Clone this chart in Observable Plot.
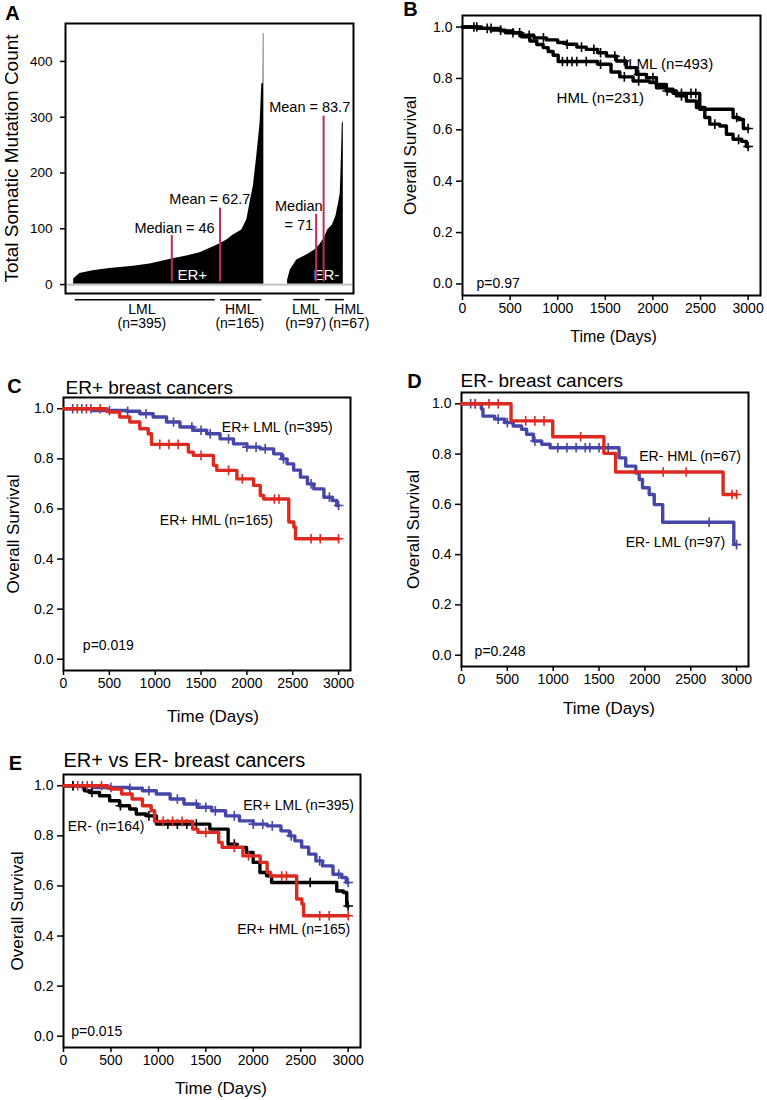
<!DOCTYPE html>
<html><head><meta charset="utf-8">
<script src="https://cdn.jsdelivr.net/npm/d3@7"></script>
<script src="https://cdn.jsdelivr.net/npm/@observablehq/plot@0.6"></script>
<style>
body{margin:0;background:#fff;}
#fig{position:relative;width:767px;height:1100px;font-family:"Liberation Sans",Arial,Helvetica,sans-serif;}
.panel{position:absolute;}
</style></head><body><div id="fig"></div>
<script>
// ---------- Panel A data: sorted total somatic mutation counts ----------
const erPosRank  = [0, 18, 57, 106, 176, 225, 289, 333, 372, 412, 431, 451, 470, 495, 510, 519, 529, 539, 549, 554, 558, 558.6, 560];
const erPosCount = [10, 20, 25, 29, 33, 37, 46, 51, 57, 68, 73, 80, 89, 98, 116, 146, 176, 229, 289, 360, 360, 450, 450];
const erNegRank  = [0, 8, 27, 56, 80, 94, 108, 118, 132, 142, 150, 155, 157, 159, 161, 164];
const erNegCount = [8, 26, 44, 53, 62, 71, 83, 98, 107, 122, 146, 163, 200, 240, 289, 292];
const statLabels = ["Median = 46", "Mean = 62.7", "Median\n= 71", "Mean = 83.7"];
const statValues = [46, 62.7, 71, 83.7];
const groupNames = ["LML", "HML", "LML", "HML"];
const groupN     = ["(n=395)", "(n=165)", "(n=97)", "(n=67)"];
const yTicksA = [0, 100, 200, 300, 400];

// ---------- Survival data: [time (days), survival] steps ----------
const survB_LML = [[0,1],[150,0.995],[300,0.988],[450,0.978],[600,0.968],[750,0.958],[880,0.95],[1000,0.94],[1090,0.933],[1200,0.922],[1300,0.913],[1420,0.9],[1512,0.887],[1617,0.868],[1720,0.842],[1827,0.816],[1932,0.803],[2037,0.777],[2142,0.751],[2247,0.732],[2352,0.712],[2457,0.687],[2545,0.648],[2597,0.622],[2702,0.615],[2772,0.583],[2842,0.563],[2930,0.555],[2982,0.535],[3000,0.535]];
const survB_HML = [[0,1],[200,0.995],[400,0.985],[532,0.978],[620,0.962],[707,0.946],[780,0.932],[847,0.92],[900,0.905],[952,0.89],[1005,0.866],[1420,0.855],[1560,0.825],[1652,0.806],[1792,0.79],[1967,0.784],[2037,0.764],[2142,0.758],[2212,0.742],[2492,0.68],[2842,0.648],[2900,0.64],[2950,0.605],[3000,0.605]];
const survERpos_LML = [[0,1],[321,0.993],[686,0.99],[832,0.98],[978,0.967],[1124,0.947],[1270,0.927],[1416,0.914],[1562,0.9],[1708,0.88],[1854,0.86],[2000,0.847],[2146,0.84],[2292,0.82],[2380,0.8],[2438,0.78],[2510,0.755],[2584,0.727],[2660,0.7],[2730,0.68],[2840,0.647],[2931,0.634],[2980,0.614],[3000,0.614]];
const survERpos_HML = [[0,1],[470,0.99],[504,0.987],[613,0.967],[723,0.947],[832,0.92],[924,0.9],[960,0.858],[1361,0.827],[1416,0.814],[1635,0.774],[1672,0.754],[1891,0.72],[2073,0.694],[2146,0.654],[2183,0.64],[2457,0.548],[2512,0.528],[2530,0.481],[3000,0.481]];
const survERneg_HML = [[0,1],[540,0.932],[995,0.869],[1553,0.803],[1680,0.729],[2853,0.639],[3000,0.639]];
const survERneg_LML = [[0,1],[216,0.98],[234,0.951],[362,0.939],[472,0.925],[564,0.912],[655,0.899],[710,0.879],[784,0.852],[875,0.839],[967,0.825],[1718,0.785],[1791,0.752],[1901,0.725],[1938,0.699],[1974,0.666],[2047,0.639],[2102,0.599],[2194,0.529],[2970,0.44],[3000,0.44]];
const survERneg_all = [[0,1],[222,0.98],[275,0.973],[380,0.96],[486,0.94],[591,0.92],[697,0.907],[767,0.887],[873,0.88],[979,0.847],[1542,0.827],[1735,0.767],[1823,0.754],[1929,0.734],[1999,0.694],[2070,0.654],[2140,0.641],[2193,0.614],[2880,0.58],[2950,0.574],[2985,0.52],[3000,0.52]];

// censoring times (days)
const censB_LML = [120,260,400,530,700,850,1100,1250,1380,1450,1600,1700,1850,2000,2150,2300,2650,2900,3000];
const censB_HML = [150,300,600,1050,1100,1150,1200,1300,1450,1700,1850,2300,2400,2450,2880,3000];
const censERpos_LML = [100,200,300,500,700,900,1200,1400,1500,1600,1800,2000,2100,2200,2400,2700,2900,3000];
const censERpos_HML = [150,250,400,1050,1150,1250,1500,1800,1950,2300,2350,2700,2800,3000];
const censERneg_HML = [150,300,400,700,800,900,1300,2200,2450,2950,3000];
const censERneg_LML = [100,150,400,500,800,1050,1150,1250,1350,1400,1500,1600,2700,3000];
const censERneg_all = [100,300,600,900,1100,1200,1300,1400,1800,2600,3000];

const xTicksS = [0, 500, 1000, 1500, 2000, 2500, 3000];
const yTicksS = [0, 0.2, 0.4, 0.6, 0.8, 1.0];

const FONT = '"Liberation Sans", Arial, Helvetica, sans-serif';
const RED = "#dd2a20", BLUE = "#4646a8", BLACK = "#000", STAT = "#c42a57";
const fig = document.getElementById("fig");

function place(svg, left, top) {
  const d = document.createElement("div");
  d.className = "panel"; d.style.left = left + "px"; d.style.top = top + "px";
  d.appendChild(svg); fig.appendChild(d);
}
function lookup(curve, t) { let s = curve[0][1]; for (const d of curve) if (d[0] <= t) s = d[1]; return s; }

// ---------------- Panel A ----------------
(function () {
  const ER_NEG_OFFSET = 630;
  const erPos = erPosRank.map((r, i) => ({x: r, y: erPosCount[i]}));
  const erNeg = erNegRank.map((r, i) => ({x: r + ER_NEG_OFFSET, y: erNegCount[i]}));
  const statPlace = [
    {x: 289, top: 88, lx: 297, ly: 103},
    {x: 431, top: 137, lx: 401, ly: 156},
    {x: 714, top: 126, lx: 663, ly: 125},
    {x: 736, top: 302, lx: 695, ly: 320}
  ];
  const stats = statLabels.map((t, i) => ({label: t, value: statValues[i], ...statPlace[i]}));
  const groupPlace = [[5, 417, 201], [433, 554, 489], [648, 726, 683], [742, 797, 811]];
  const groups = groupNames.map((g, i) => ({name: g, n: groupN[i], x1: groupPlace[i][0], x2: groupPlace[i][1], cx: groupPlace[i][2]}));
  const svg = Plot.plot({
    width: 380, height: 340, marginLeft: 65, marginRight: 27, marginTop: 23, marginBottom: 47,
    style: {fontFamily: FONT, background: "none", overflow: "visible"},
    x: {domain: [-24, 824], axis: null},
    y: {domain: [-16, 468], axis: null},
    marks: [
      Plot.areaY(erPos, {x: "x", y: "y", fill: "black"}),
      Plot.areaY(erNeg, {x: "x", y: "y", fill: "black"}),
      Plot.ruleY([0], {stroke: "#c8c8c8", strokeWidth: 2.2}),
      Plot.text(["ER+", "ER-"], {x: [349, 744], y: [16, 16], fill: "white", fontSize: 15}),
      Plot.ruleX(stats, {x: "x", y1: 5, y2: "top", stroke: STAT, strokeWidth: 2}),
      Plot.text(stats, {x: "lx", y: "ly", text: "label", fontSize: 14.5, lineHeight: 1.3, fill: "black"}),
      Plot.frame({stroke: "black", strokeWidth: 2}),
      Plot.axisY({ticks: yTicksA, tickSize: 5, tickPadding: 8, fontSize: 13.5, tickFormat: d => String(d), label: null, strokeWidth: 1.5}),
      Plot.ruleY(groups, {y: -27, x1: "x1", x2: "x2", stroke: "black", strokeWidth: 1.5}),
      Plot.text(groups, {x: "cx", y: -44, text: "name", fontSize: 14}),
      Plot.text(groups, {x: "cx", y: -70, text: "n", fontSize: 14}),
      Plot.text(["Total Somatic Mutation Count"], {frameAnchor: "left", textAnchor: "middle", lineAnchor: "middle", rotate: -90, dx: -54, fontSize: 19}),
      Plot.text(["A"], {frameAnchor: "top-left", textAnchor: "middle", lineAnchor: "middle", dx: -53, dy: -10, fontSize: 20, fontWeight: "bold"})
    ]
  });
  place(svg, 0, 0);
})();

// ---------------- Survival panels ----------------
function survPanel(cfg) {
  const marks = [
    Plot.frame({stroke: "black", strokeWidth: 2}),
    Plot.axisX({ticks: xTicksS, tickSize: 5, tickPadding: 3, fontSize: 14, tickFormat: d => String(d), label: null, strokeWidth: 1.5}),
    Plot.axisY({ticks: yTicksS, tickSize: 6, tickPadding: 4, fontSize: 14, tickFormat: d3.format(".1f"), label: null, strokeWidth: 1.5})
  ];
  for (const s of cfg.series) {
    const data = s.data.map(d => ({t: d[0], s: d[1]}));
    marks.push(Plot.line(data, {x: "t", y: "s", curve: "step-after", stroke: s.color, strokeWidth: 3.4}));
    const cens = s.cens.map(t => ({t, s: lookup(s.data, t)}));
    marks.push(Plot.dot(cens, {x: "t", y: "s", symbol: "plus", r: 3.2, stroke: s.color, strokeWidth: 1.6}));
  }
  marks.push(Plot.text(cfg.labels, {x: "t", y: "s", text: "text", textAnchor: "start", fontSize: cfg.labelSize || 14}));
  marks.push(Plot.text([cfg.p], {x: "t", y: "s", text: "text", textAnchor: "start", fontSize: 14}));
  marks.push(Plot.text(["Overall Survival"], {frameAnchor: "left", textAnchor: "middle", lineAnchor: "middle", rotate: -90, dx: cfg.ylabDx, fontSize: 17}));
  marks.push(Plot.text(["Time (Days)"], {frameAnchor: "bottom", textAnchor: "middle", lineAnchor: "middle", dy: cfg.xlabDy, dx: cfg.xlabDx || 0, fontSize: cfg.xlabSize || 17}));
  if (cfg.title) marks.push(Plot.text([cfg.title], {frameAnchor: "top-left", dx: cfg.titleDx, dy: -cfg.titleGap, textAnchor: "start", lineAnchor: "middle", fontSize: cfg.titleSize}));
  marks.push(Plot.text([cfg.letter], {frameAnchor: "top-left", textAnchor: "middle", lineAnchor: "middle", dx: cfg.letterDx, dy: cfg.letterDy, fontSize: 20, fontWeight: "bold"}));
  const svg = Plot.plot({
    width: cfg.width, height: cfg.height,
    marginLeft: cfg.m[0], marginTop: cfg.m[1], marginRight: cfg.m[2], marginBottom: cfg.m[3],
    style: {fontFamily: FONT, background: "none", overflow: "visible"},
    x: {domain: [0, 3130], axis: null},
    y: {domain: [-0.045, 1.045], axis: null},
    marks
  });
  place(svg, cfg.left, cfg.top);
}

// B
survPanel({
  left: 380, top: 0, width: 387, height: 350, m: [82, 15, 7, 55],
  series: [
    {data: survB_HML, cens: censB_HML, color: BLACK},
    {data: survB_LML, cens: censB_LML, color: BLACK}
  ],
  labels: [{t: 1741, s: 0.855, text: "LML (n=493)"}, {t: 988, s: 0.725, text: "HML (n=231)"}],
  labelSize: 15,
  p: {t: 147, s: 0.0, text: "p=0.97"},
  ylabDx: -52, xlabDy: 41, xlabDx: 2, xlabSize: 16,
  letter: "B", letterDx: -52, letterDy: -6
});

// C
survPanel({
  left: 0, top: 360, width: 380, height: 370, m: [63, 37, 30, 60],
  series: [
    {data: survERpos_LML, cens: censERpos_LML, color: BLUE},
    {data: survERpos_HML, cens: censERpos_HML, color: RED}
  ],
  labels: [{t: 1727, s: 0.927, text: "ER+ LML (n=395)"}, {t: 1051, s: 0.554, text: "ER+ HML (n=165)"}],
  p: {t: 211, s: 0.056, text: "p=0.019"},
  ylabDx: -50, xlabDy: 46, xlabDx: 6,
  title: "ER+ breast cancers", titleDx: 2, titleGap: 10, titleSize: 19,
  letter: "C", letterDx: -49, letterDy: -11
});

// D
survPanel({
  left: 380, top: 355, width: 387, height: 370, m: [81, 37, 19, 59],
  series: [
    {data: survERneg_LML, cens: censERneg_LML, color: BLUE},
    {data: survERneg_HML, cens: censERneg_HML, color: RED}
  ],
  labels: [{t: 1938, s: 0.79, text: "ER- HML (n=67)"}, {t: 1791, s: 0.449, text: "ER- LML (n=97)"}],
  p: {t: 143, s: 0.013, text: "p=0.248"},
  ylabDx: -48, xlabDy: 42, xlabDx: 4,
  title: "ER- breast cancers", titleDx: -1, titleGap: 12, titleSize: 19,
  letter: "D", letterDx: -47, letterDy: -11
});

// E
survPanel({
  left: 0, top: 740, width: 380, height: 360, m: [63, 34, 20, 53],
  series: [
    {data: survERpos_LML, cens: censERpos_LML, color: BLUE},
    {data: survERneg_all, cens: censERneg_all, color: BLACK},
    {data: survERpos_HML, cens: censERpos_HML, color: RED}
  ],
  labels: [{t: 1894, s: 0.921, text: "ER+ LML (n=395)"}, {t: 45, s: 0.837, text: "ER- (n=164)"}, {t: 1830, s: 0.427, text: "ER+ HML (n=165)"}],
  p: {t: 81, s: 0.017, text: "p=0.015"},
  ylabDx: -46, xlabDy: 41, xlabDx: 9,
  title: "ER+ vs ER- breast cancers", titleDx: 0, titleGap: 14, titleSize: 20,
  letter: "E", letterDx: -48, letterDy: -11
});
</script>
</body></html>
